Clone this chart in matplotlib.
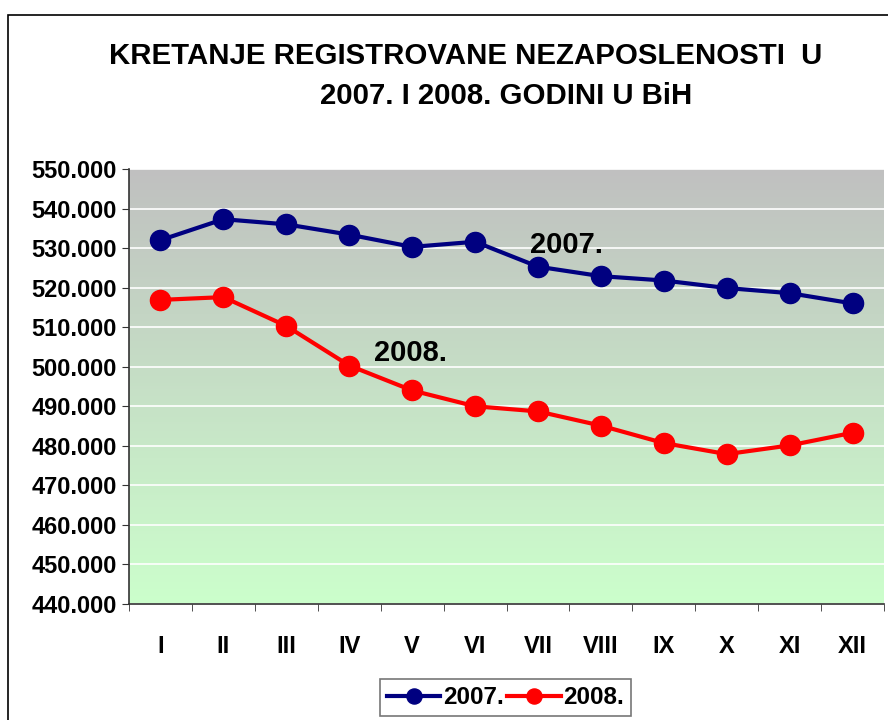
import matplotlib
matplotlib.use('Agg')
import matplotlib.pyplot as plt
import numpy as np
from matplotlib.colors import LinearSegmentedColormap
from matplotlib.patches import Rectangle

plt.rcParams['font.family'] = ['Liberation Sans', 'DejaVu Sans']
plt.rcParams['font.weight'] = 'bold'

months = ['I', 'II', 'III', 'IV', 'V', 'VI', 'VII', 'VIII', 'IX', 'X', 'XI', 'XII']
y2007 = [532.0, 537.3, 536.0, 533.4, 530.3, 531.6, 525.3, 522.9, 521.8, 519.9, 518.6, 516.0]
y2008 = [516.9, 517.6, 510.3, 500.3, 494.0, 490.0, 488.7, 485.1, 480.7, 477.9, 480.1, 483.3]
yticks = [440, 450, 460, 470, 480, 490, 500, 510, 520, 530, 540, 550]

fig = plt.figure(figsize=(8.88, 7.2), dpi=100)
fig.patches.append(Rectangle((0.009, -0.05), 1.1, 0.979 + 0.05, transform=fig.transFigure,
                             fill=False, edgecolor='black', linewidth=1.2))

ax = fig.add_axes([0.1453, 0.1611, 0.8502, 0.6042])
x = np.arange(len(months))

# gradient background gray -> light green
cmap = LinearSegmentedColormap.from_list('bg', ['#C0C0C0', '#CCFFCC'])
grad = np.linspace(0, 1, 256).reshape(-1, 1)
ax.imshow(grad, cmap=cmap, aspect='auto', extent=[0, 1, 0, 1],
          transform=ax.transAxes, zorder=0)

ax.plot(x, y2007, color='#000080', linewidth=3, marker='o', markersize=14.5,
        label='2007.', zorder=3)
ax.plot(x, y2008, color='#FF0000', linewidth=3, marker='o', markersize=14.5,
        label='2008.', zorder=3)

ax.set_xlim(-0.5, len(months) - 0.5)
ax.set_ylim(440, 550)
ax.set_yticks(yticks)
ax.set_yticklabels([f'{v}.000' for v in yticks], fontsize=17, fontweight='bold')
ax.set_xticks(x)
ax.set_xticklabels(months, fontsize=17, fontweight='bold')
ax.set_xticks(np.arange(-0.5, len(months)), minor=True)
ax.tick_params(axis='x', which='major', length=0, pad=22)
ax.tick_params(axis='x', which='minor', length=5, direction='out', color='#333333')
ax.tick_params(axis='y', length=5, direction='out', color='#333333', pad=4)

ax.grid(axis='y', color='white', linewidth=1.2, zorder=1)
ax.set_axisbelow(True)
for s in ['top', 'right']:
    ax.spines[s].set_visible(False)
for s in ['left', 'bottom']:
    ax.spines[s].set_color('#333333')
    ax.spines[s].set_linewidth(1.2)

ax.text(5.87, 530.7, '2007.', fontsize=21, fontweight='bold', va='center', ha='left', zorder=4)
ax.text(3.40, 503.4, '2008.', fontsize=21, fontweight='bold', va='center', ha='left', zorder=4)

fig.text(0.524, 0.922, 'KRETANJE REGISTROVANE NEZAPOSLENOSTI  U', fontsize=21.2,
         fontweight='bold', ha='center', va='center')
fig.text(0.57, 0.867, '2007. I 2008. GODINI U BiH', fontsize=21.2,
         fontweight='bold', ha='center', va='center')

leg = fig.legend(loc='center', bbox_to_anchor=(0.569, 0.031), ncol=2,
                 prop={'size': 17.5, 'weight': 'bold'}, frameon=True, fancybox=False,
                 handlelength=2.2, columnspacing=0.15, handletextpad=0.1,
                 borderpad=0.3, borderaxespad=0, markerscale=0.75)
leg.get_frame().set_edgecolor('#555555')
leg.get_frame().set_linewidth(1.2)

fig.savefig('out.png', dpi=100)
